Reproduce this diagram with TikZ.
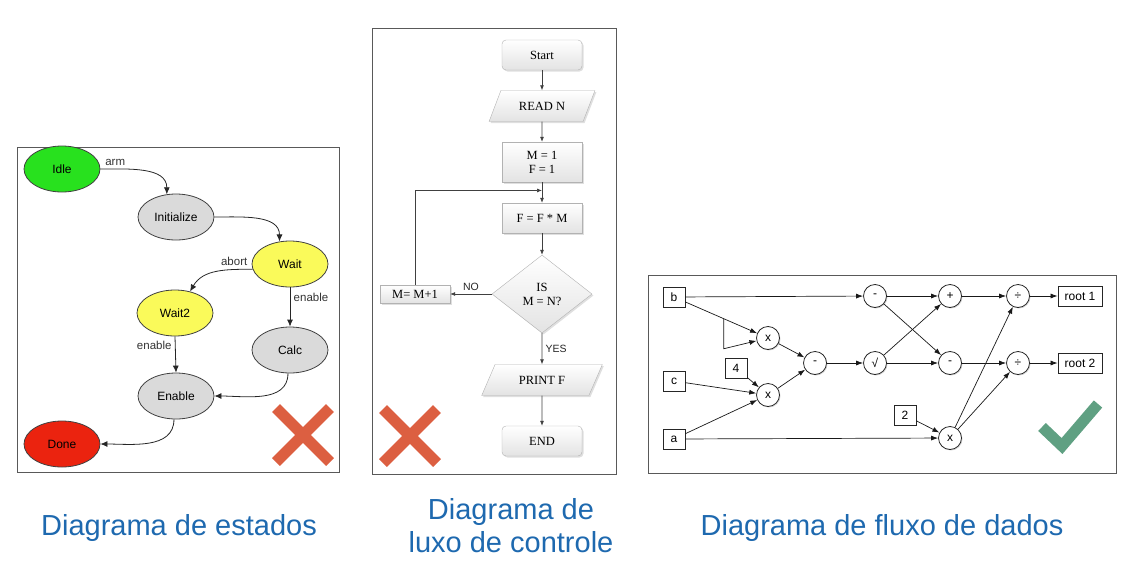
\documentclass[tikz,border=0pt]{standalone}
\usepackage{fontspec}
\setmainfont{Liberation Sans}
\newfontfamily\flowfont{Liberation Serif}
\usetikzlibrary{shapes.geometric,arrows.meta,calc,shadows}

\definecolor{idlegreen}{RGB}{40,225,30}
\definecolor{stategray}{RGB}{218,218,218}
\definecolor{waityellow}{RGB}{250,250,90}
\definecolor{donered}{RGB}{235,35,15}
\definecolor{crossred}{RGB}{220,95,65}
\definecolor{tickgreen}{RGB}{95,160,130}
\definecolor{captionblue}{RGB}{30,105,175}

\tikzset{
  state/.style={ellipse,draw=black!75,line width=0.8pt,minimum width=76pt,minimum height=46pt,inner sep=0pt,font=\fontsize{12}{14}\selectfont},
  trans/.style={-{Latex[length=7pt,width=6pt]},line width=0.8pt,black!85},
  translabel/.style={font=\fontsize{11.5}{13}\selectfont,text=black!80},
  proc/.style={rectangle,draw=gray!60,top color=white,bottom color=gray!22,minimum width=80pt,minimum height=30pt,inner sep=1pt,align=center,
    font=\flowfont\fontsize{12.5}{14}\selectfont,drop shadow={opacity=0.25,shadow xshift=1.5pt,shadow yshift=-1.5pt}},
  term/.style={proc,rounded corners=4pt},
  io/.style={proc,trapezium,trapezium left angle=56,trapezium right angle=124,trapezium stretches=true},
  decision/.style={proc,diamond,minimum width=100pt,minimum height=78pt,inner sep=0pt},
  flow/.style={-{Latex[length=5pt,width=4pt]},line width=0.7pt,black!75},
  flowlabel/.style={font=\fontsize{10.5}{12}\selectfont,text=black!85},
  datum/.style={rectangle,draw=black!85,fill=white,line width=0.8pt,minimum width=22pt,minimum height=20pt,inner sep=1pt,
    font=\fontsize{12}{14}\selectfont,drop shadow={opacity=0.3,shadow xshift=1pt,shadow yshift=-1pt}},
  op/.style={circle,draw=black!85,fill=white,line width=0.8pt,minimum size=23pt,inner sep=0pt,
    font=\fontsize{12}{14}\selectfont,drop shadow={opacity=0.3,shadow xshift=1pt,shadow yshift=-1pt}},
  dflow/.style={-{Latex[length=7pt,width=5pt]},line width=0.7pt,black!90},
  panel/.style={draw=black!65,line width=0.8pt},
  cross/.style={crossred,line width=11pt},
  caption/.style={text=captionblue,font=\fontsize{29}{33}\selectfont,align=center,inner sep=0pt}
}

\begin{document}
\begin{tikzpicture}[x=1pt,y=-1pt]
\useasboundingbox (0,0) rectangle (1135,568);

% estados
\draw[panel] (17,147) rectangle (339,472);
\node[state,fill=idlegreen] (idle) at (62,169) {Idle};
\node[state,fill=stategray] (init) at (176,217) {Initialize};
\node[state,fill=waityellow] (wait) at (290,264) {Wait};
\node[state,fill=waityellow] (waittwo) at (175,313) {Wait2};
\node[state,fill=stategray] (calc) at (290,350) {Calc};
\node[state,fill=stategray] (enable) at (176,396) {Enable};
\node[state,fill=donered] (done) at (62,444) {Done};

\draw[trans] (idle.east) to[out=0,in=90] node[translabel,above,pos=0.17] {arm} (init.112);
\draw[trans] (init.east) to[out=0,in=90] (wait.115);
\draw[trans] (wait.188) to[out=180,in=60] node[translabel,above left,pos=0.02] {abort} (waittwo.55);
\draw[trans] (wait.south) -- node[translabel,right,pos=0.25] {enable} (calc.north);
\draw[trans] (waittwo.south) -- node[translabel,left,pos=0.25] {enable} (enable.north);
\draw[trans] (calc.265) to[out=-90,in=0] (enable.east);
\draw[trans] (enable.265) to[out=-90,in=0] (done.east);

\draw[cross] (276,408) -- (330,462) (330,408) -- (276,462);

% controle
\draw[panel] (372,28) rectangle (616,474);
\node[term] (start) at (542,55) {Start};
\node[io,minimum width=106pt,minimum height=31pt] (readn) at (542,106) {READ N};
\node[proc,minimum height=40pt] (setup) at (542,162) {M = 1\\F = 1};
\node[proc] (mult) at (542,218) {F = F * M};
\node[decision] (test) at (542,294) {IS\\M = N?};
\node[proc,minimum width=70pt,minimum height=18pt] (incr) at (415,294) {M= M+1};
\node[io,minimum width=121pt,minimum height=31pt] (printf) at (542,380) {PRINT F};
\node[term] (finish) at (542,441) {END};
\coordinate (loopjoin) at ($(setup.south)!0.4!(mult.north)$);

\draw[flow] (start) -- (readn);
\draw[flow] (readn) -- (setup);
\draw[flow] (setup) -- (mult);
\draw[flow] (mult) -- (test);
\draw[flow] (test.west) -- node[flowlabel,above] {NO} (incr.east);
\draw[flow] (incr.north) |- (loopjoin);
\draw[flow] (test.south) -- node[flowlabel,right] {YES} (printf);
\draw[flow] (printf) -- (finish);

\draw[cross] (383,409) -- (437,463) (437,409) -- (383,463);

% fluxo de dados
\draw[panel] (648,275) rectangle (1116,473);
\node[datum] (b) at (674,297) {b};
\node[datum] (c) at (674,381) {c};
\node[datum] (a) at (674,439) {a};
\node[datum] (four) at (736,368) {4};
\node[datum] (two) at (905,415) {2};
\node[op] (sqb) at (768,338) {x};
\node[op] (prodac) at (768,395) {x};
\node[op] (disc) at (815,363) {-};
\node[op] (sqrtd) at (875,363) {√};
\node[op] (negb) at (875,296) {-};
\node[op] (plus) at (950,296) {+};
\node[op] (minus) at (950,363) {-};
\node[op] (divone) at (1018,296) {÷};
\node[op] (divtwo) at (1018,363) {÷};
\node[op] (twoa) at (950,438) {x};
\node[datum,minimum width=44pt] (rootone) at (1080,296) {root 1};
\node[datum,minimum width=44pt] (roottwo) at (1080,363) {root 2};

\draw[dflow] (b) -- (negb);
\draw[dflow] (b) -- (sqb);
\draw[dflow] ($(b)!0.53!(sqb)$) -- ++(0,30) -- (sqb);
\draw[dflow] (c) -- (prodac);
\draw[dflow] (four) -- (prodac);
\draw[dflow] (a) -- (prodac);
\draw[dflow] (sqb) -- (disc);
\draw[dflow] (prodac) -- (disc);
\draw[dflow] (disc) -- (sqrtd);
\draw[dflow] (sqrtd) -- (plus);
\draw[dflow] (sqrtd) -- (minus);
\draw[dflow] (negb) -- (plus);
\draw[dflow] (negb) -- (minus);
\draw[dflow] (plus) -- (divone);
\draw[dflow] (minus) -- (divtwo);
\draw[dflow] (a) -- (twoa);
\draw[dflow] (two) -- (twoa);
\draw[dflow] (twoa) -- (divone);
\draw[dflow] (twoa) -- (divtwo);
\draw[dflow] (divone) -- (rootone);
\draw[dflow] (divtwo) -- (roottwo);

\draw[tickgreen,line width=11pt] (1042,427) -- (1062,446) -- (1098,404);

% legendas
\node[caption,anchor=base] (capstate) at (179,535) {Diagrama de estados};
\node[caption] (capcontrol) at (511,526) {Diagrama de\\luxo de controle};
\node[caption,anchor=base] (capdata) at (882,535) {Diagrama de fluxo de dados};
\end{tikzpicture}
\end{document}
